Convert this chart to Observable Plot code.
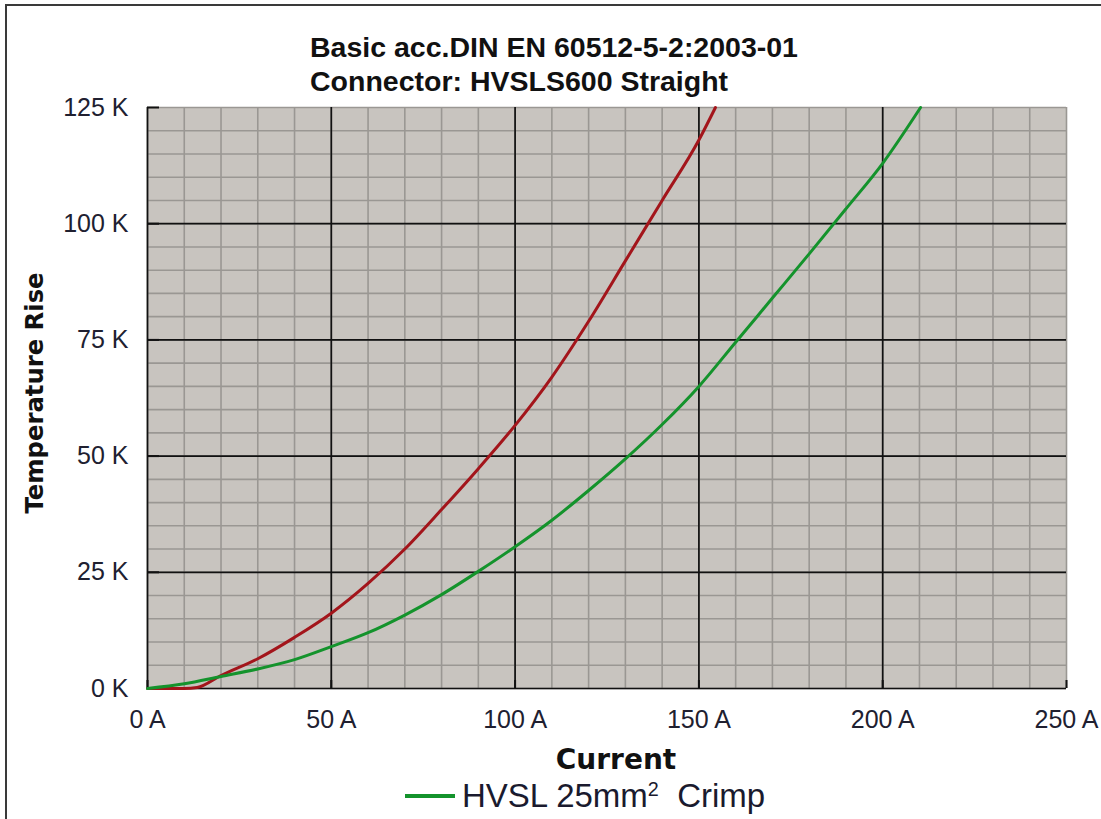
<!DOCTYPE html>
<html><head><meta charset="utf-8">
<script src="https://cdn.jsdelivr.net/npm/d3@7"></script>
<script src="https://cdn.jsdelivr.net/npm/@observablehq/plot@0.6"></script>
<style>
html,body{margin:0;padding:0;background:#fff;width:1101px;height:819px;overflow:hidden;position:relative;}
#frame{position:absolute;left:5px;top:4px;width:1300px;height:1000px;border-left:2px solid #3a3a3a;border-top:2px solid #3a3a3a;}
#chart{position:absolute;left:0;top:0;}
.title{position:absolute;left:310px;font:bold 28.5px "Liberation Sans",Arial,sans-serif;color:#111;white-space:nowrap;line-height:1;}
#ytitle{position:absolute;left:35px;top:393px;transform:translate(-50%,-50%) rotate(-90deg);font:bold 24.3px "DejaVu Sans",sans-serif;color:#111;white-space:nowrap;line-height:1;}
#xtitle{position:absolute;left:616px;top:760px;transform:translate(-50%,-50%);font:bold 28px "DejaVu Sans",sans-serif;color:#111;white-space:nowrap;line-height:1;}
#legend{position:absolute;left:405px;top:796px;transform:translateY(-50%);display:flex;align-items:center;font:33px "Liberation Sans",Arial,sans-serif;color:#1a1a2e;white-space:nowrap;}
#legend .sw{display:inline-block;width:50px;height:4px;margin-right:7px;}
#legend sup{font-size:0.6em;vertical-align:0.55em;line-height:0;}
</style></head>
<body>
<div id="frame"></div>
<div id="chart"></div>
<div class="title" id="t1" style="top:33px">Basic acc.DIN EN 60512-5-2:2003-01</div>
<div class="title" id="t2" style="top:67px">Connector: HVSLS600 Straight</div>
<div id="ytitle">Temperature Rise</div>
<div id="xtitle">Current</div>
<div id="legend"><span class="sw"></span><span>HVSL 25mm<sup>2</sup>&nbsp; Crimp</span></div>
<script>
// Data (current in A, temperature rise in K)
const redCurrent = [0, 10, 13.5, 20, 30, 40, 50, 60, 70, 80, 90, 100, 110, 120, 130, 140, 150, 154.5];
const redRise    = [0, 0, 0.2, 2.8, 6.4, 11, 16.2, 22.6, 30, 38.5, 47.3, 56.6, 67, 79, 92, 105, 118, 125];
const greenCurrent = [0, 10, 20, 30, 40, 50, 60, 70, 80, 90, 100, 110, 120, 130, 140, 150, 160, 170, 180, 190, 200, 210.3];
const greenRise    = [0, 1, 2.6, 4.2, 6.2, 9, 12, 15.8, 20.2, 25.2, 30.5, 36.2, 42.6, 49.4, 56.8, 65, 74.5, 84, 93.5, 103.2, 113, 125];
const seriesNames = ["Connector curve", "HVSL 25mm² Crimp"];
const seriesColors = ["#a3151b", "#14932c"];
const xTicks = [0, 50, 100, 150, 200, 250];
const yTicks = [0, 25, 50, 75, 100, 125];
const xMinor = [0, 10, 20, 30, 40, 50, 60, 70, 80, 90, 100, 110, 120, 130, 140, 150, 160, 170, 180, 190, 200, 210, 220, 230, 240, 250];
const yMinor = [0, 5, 10, 15, 20, 25, 30, 35, 40, 45, 50, 55, 60, 65, 70, 75, 80, 85, 90, 95, 100, 105, 110, 115, 120, 125];
const xMajorGrid = [0, 50, 100, 150, 200];
const yMajorGrid = [0, 25, 50, 75, 100];

const redRows = redCurrent.map((c, i) => ({current: c, rise: redRise[i], series: seriesNames[0]}));
const greenRows = greenCurrent.map((c, i) => ({current: c, rise: greenRise[i], series: seriesNames[1]}));

document.querySelector("#legend .sw").style.background = seriesColors[1];

const chart = Plot.plot({
  width: 1101,
  height: 740,
  marginLeft: 147,
  marginRight: 35,
  marginTop: 107,
  marginBottom: 52,
  style: {overflow: "visible", background: "transparent"},
  x: {domain: [0, 250]},
  y: {domain: [0, 125]},
  marks: [
    Plot.frame({fill: "#c8c4bf", stroke: "none"}),
    Plot.ruleX(xMinor, {stroke: "#9a9793", strokeWidth: 1.6}),
    Plot.ruleY(yMinor, {stroke: "#9a9793", strokeWidth: 1.6}),
    Plot.ruleX(xMajorGrid, {stroke: "#111", strokeWidth: 1.7}),
    Plot.ruleY(yMajorGrid, {stroke: "#111", strokeWidth: 1.7}),
    Plot.axisX(xTicks, {tickSize: -8, fill: "none", stroke: "#111", strokeWidth: 2, label: null}),
    Plot.axisY(yTicks, {tickSize: -12, fill: "none", stroke: "#111", strokeWidth: 2, label: null}),
    Plot.axisX(xTicks, {tickSize: 0, tickPadding: 22, tickFormat: d => d + " A", fontSize: 25, fill: "#202030", label: null}),
    Plot.axisY(yTicks, {tickSize: 0, tickPadding: 19, tickFormat: d => d + " K", fontSize: 25, fill: "#202030", label: null}),
    Plot.line(redRows, {x: "current", y: "rise", stroke: seriesColors[0], strokeWidth: 3, curve: "monotone-x"}),
    Plot.line(greenRows, {x: "current", y: "rise", stroke: seriesColors[1], strokeWidth: 3, curve: "monotone-x"})
  ]
});
chart.style.fontFamily = '"Liberation Sans", Arial, sans-serif';
document.getElementById("chart").appendChild(chart);
</script>
</body></html>
